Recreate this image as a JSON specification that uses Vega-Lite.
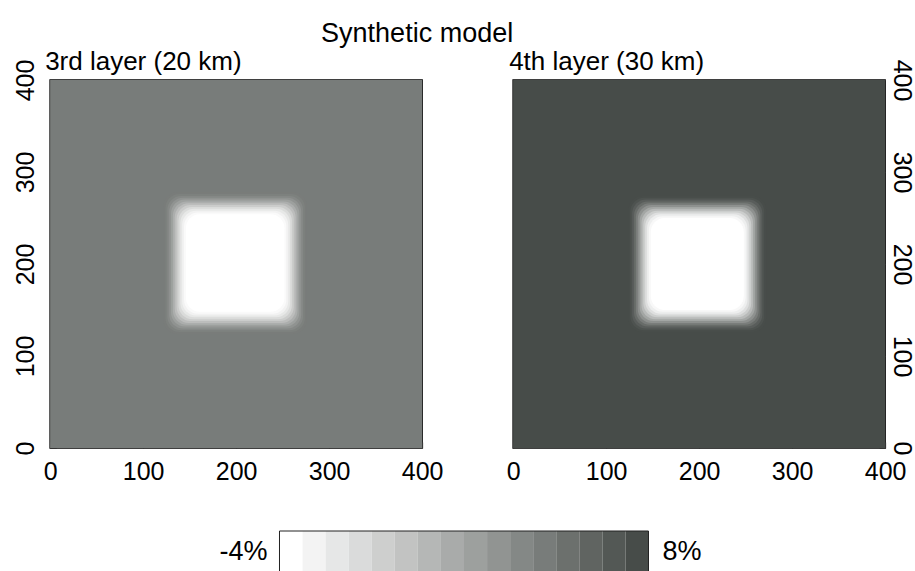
{
  "$schema": "https://vega.github.io/schema/vega-lite/v6.json",
  "padding": {"left": 12, "top": 20, "right": 0, "bottom": 0},
  "background": "white",
  "config": {
    "font": "Liberation Sans",
    "view": {"stroke": "black", "strokeWidth": 1.5},
    "axis": {"domain": false, "grid": false, "labelFontSize": 25, "labelColor": "black", "tickColor": "#333", "tickSize": -6, "tickWidth": 1, "labelPadding": 17, "title": null, "labelFlush": false, "zindex": 1}
  },
  "title": {"text": "Synthetic model", "fontSize": 27, "fontWeight": "normal", "color": "black", "anchor": "middle", "dx": -46, "offset": 0},
  "datasets": {
    "leftBg": [{"x": 0, "x2": 400, "y": 0, "y2": 400, "v": 4.8}],
    "leftRings": [
      {"x": 122, "x2": 276, "y": 124, "y2": 278, "v": 4.76},
      {"x": 124, "x2": 274, "y": 126, "y2": 276, "v": 4.48},
      {"x": 126, "x2": 272, "y": 128, "y2": 274, "v": 3.95},
      {"x": 128, "x2": 270, "y": 130, "y2": 272, "v": 3.23},
      {"x": 130, "x2": 268, "y": 132, "y2": 270, "v": 2.37},
      {"x": 132, "x2": 266, "y": 134, "y2": 268, "v": 1.4},
      {"x": 134, "x2": 264, "y": 136, "y2": 266, "v": 0.4},
      {"x": 136, "x2": 262, "y": 138, "y2": 264, "v": -0.6},
      {"x": 138, "x2": 260, "y": 140, "y2": 262, "v": -1.57},
      {"x": 140, "x2": 258, "y": 142, "y2": 260, "v": -2.43},
      {"x": 142, "x2": 256, "y": 144, "y2": 258, "v": -3.15},
      {"x": 144, "x2": 254, "y": 146, "y2": 256, "v": -3.68},
      {"x": 146, "x2": 252, "y": 148, "y2": 254, "v": -4.0}
    ],
    "rightBg": [{"x": 0, "x2": 400, "y": 0, "y2": 400, "v": 8.0}],
    "rightRings": [
      {"x": 124, "x2": 272, "y": 126, "y2": 274, "v": 7.95},
      {"x": 126, "x2": 270, "y": 128, "y2": 272, "v": 7.56},
      {"x": 128, "x2": 268, "y": 130, "y2": 270, "v": 6.84},
      {"x": 130, "x2": 266, "y": 132, "y2": 268, "v": 5.86},
      {"x": 132, "x2": 264, "y": 134, "y2": 266, "v": 4.69},
      {"x": 134, "x2": 262, "y": 136, "y2": 264, "v": 3.37},
      {"x": 136, "x2": 260, "y": 138, "y2": 262, "v": 2.0},
      {"x": 138, "x2": 258, "y": 140, "y2": 260, "v": 0.63},
      {"x": 140, "x2": 256, "y": 142, "y2": 258, "v": -0.69},
      {"x": 142, "x2": 254, "y": 144, "y2": 256, "v": -1.86},
      {"x": 144, "x2": 252, "y": 146, "y2": 254, "v": -2.85},
      {"x": 146, "x2": 250, "y": 148, "y2": 252, "v": -3.56},
      {"x": 148, "x2": 248, "y": 150, "y2": 250, "v": -4.0}
    ],
    "bar": [
      {"lo": -4.0, "hi": -3.25, "v": -4.0},
      {"lo": -3.25, "hi": -2.5, "v": -3.2},
      {"lo": -2.5, "hi": -1.75, "v": -2.4},
      {"lo": -1.75, "hi": -1.0, "v": -1.6},
      {"lo": -1.0, "hi": -0.25, "v": -0.8},
      {"lo": -0.25, "hi": 0.5, "v": 0.0},
      {"lo": 0.5, "hi": 1.25, "v": 0.8},
      {"lo": 1.25, "hi": 2.0, "v": 1.6},
      {"lo": 2.0, "hi": 2.75, "v": 2.4},
      {"lo": 2.75, "hi": 3.5, "v": 3.2},
      {"lo": 3.5, "hi": 4.25, "v": 4.0},
      {"lo": 4.25, "hi": 5.0, "v": 4.8},
      {"lo": 5.0, "hi": 5.75, "v": 5.6},
      {"lo": 5.75, "hi": 6.5, "v": 6.4},
      {"lo": 6.5, "hi": 7.25, "v": 7.2},
      {"lo": 7.25, "hi": 8.0, "v": 8.0}
    ],
    "barFrame": [{"lo": -4, "hi": 8}],
    "barLabels": [
      {"x": -4, "t": "-4%", "side": "left"},
      {"x": 8, "t": "8%", "side": "right"}
    ]
  },
  "vconcat": [
    {
      "hconcat": [
        {
          "width": 372, "height": 368,
          "title": {"text": "3rd layer (20 km)", "anchor": "start", "frame": "group", "fontSize": 26, "fontWeight": "normal", "color": "black", "offset": 4, "dx": -5, "dy": 20},
          "layer": [
            {
              "data": {"name": "leftBg"},
              "mark": {"type": "rect"},
              "encoding": {
                "x": {"field": "x", "type": "quantitative", "scale": {"domain": [0, 400], "nice": false}, "axis": {"values": [0, 100, 200, 300, 400]}},
                "x2": {"field": "x2"},
                "y": {"field": "y", "type": "quantitative", "scale": {"domain": [0, 400], "nice": false}, "axis": {"values": [0, 100, 200, 300, 400], "labelAngle": -90, "labelAlign": "center", "labelBaseline": "bottom", "labelPadding": 18}},
                "y2": {"field": "y2"},
                "color": {"field": "v", "type": "quantitative", "scale": {"domain": [-4, 8], "range": ["#ffffff", "#474c49"], "interpolate": "rgb"}, "legend": null}
              }
            },
            {
              "data": {"name": "leftRings"},
              "mark": {"type": "rect", "cornerRadius": 14},
              "encoding": {
                "x": {"field": "x", "type": "quantitative"},
                "x2": {"field": "x2"},
                "y": {"field": "y", "type": "quantitative"},
                "y2": {"field": "y2"},
                "color": {"field": "v", "type": "quantitative", "scale": {"domain": [-4, 8], "range": ["#ffffff", "#474c49"], "interpolate": "rgb"}, "legend": null}
              }
            }
          ]
        },
        {
          "width": 372, "height": 368,
          "title": {"text": "4th layer (30 km)", "anchor": "start", "frame": "group", "fontSize": 26, "fontWeight": "normal", "color": "black", "offset": 4, "dx": -4, "dy": 20},
          "layer": [
            {
              "data": {"name": "rightBg"},
              "mark": {"type": "rect"},
              "encoding": {
                "x": {"field": "x", "type": "quantitative", "scale": {"domain": [0, 400], "nice": false}, "axis": {"values": [0, 100, 200, 300, 400]}},
                "x2": {"field": "x2"},
                "y": {"field": "y", "type": "quantitative", "scale": {"domain": [0, 400], "nice": false}, "axis": {"orient": "right", "values": [0, 100, 200, 300, 400], "labelAngle": 90, "labelAlign": "center", "labelBaseline": "bottom", "labelPadding": 9}},
                "y2": {"field": "y2"},
                "color": {"field": "v", "type": "quantitative", "scale": {"domain": [-4, 8], "range": ["#ffffff", "#474c49"], "interpolate": "rgb"}, "legend": null}
              }
            },
            {
              "data": {"name": "rightRings"},
              "mark": {"type": "rect", "cornerRadius": 14},
              "encoding": {
                "x": {"field": "x", "type": "quantitative"},
                "x2": {"field": "x2"},
                "y": {"field": "y", "type": "quantitative"},
                "y2": {"field": "y2"},
                "color": {"field": "v", "type": "quantitative", "scale": {"domain": [-4, 8], "range": ["#ffffff", "#474c49"], "interpolate": "rgb"}, "legend": null}
              }
            }
          ]
        }
      ],
      "spacing": 61,
      "resolve": {"scale": {"x": "independent", "y": "independent"}}
    },
    {
      "width": 386, "height": 42,
      "view": {"stroke": null},
      "layer": [
        {
          "data": {"name": "bar"},
          "mark": {"type": "rect"},
          "encoding": {
            "x": {"field": "lo", "type": "quantitative", "scale": {"domain": [-4.553, 8], "nice": false, "zero": false}, "axis": null},
            "x2": {"field": "hi"},
            "color": {"field": "v", "type": "quantitative", "scale": {"domain": [-4, 8], "range": ["#ffffff", "#474c49"], "interpolate": "rgb"}, "legend": null}
          }
        },
        {
          "data": {"name": "barFrame"},
          "mark": {"type": "rect", "fill": null, "stroke": "#222", "strokeWidth": 1},
          "encoding": {
            "x": {"field": "lo", "type": "quantitative"},
            "x2": {"field": "hi"}
          }
        },
        {
          "data": {"name": "barLabels"},
          "transform": [{"filter": "datum.side == 'left'"}],
          "mark": {"type": "text", "align": "right", "dx": -12, "fontSize": 27, "color": "black", "baseline": "middle"},
          "encoding": {
            "x": {"field": "x", "type": "quantitative"},
            "text": {"field": "t"}
          }
        },
        {
          "data": {"name": "barLabels"},
          "transform": [{"filter": "datum.side == 'right'"}],
          "mark": {"type": "text", "align": "left", "dx": 14, "fontSize": 27, "color": "black", "baseline": "middle"},
          "encoding": {
            "x": {"field": "x", "type": "quantitative"},
            "text": {"field": "t"}
          }
        }
      ]
    }
  ],
  "spacing": 45,
  "center": true,
  "resolve": {"scale": {"x": "independent"}}
}
